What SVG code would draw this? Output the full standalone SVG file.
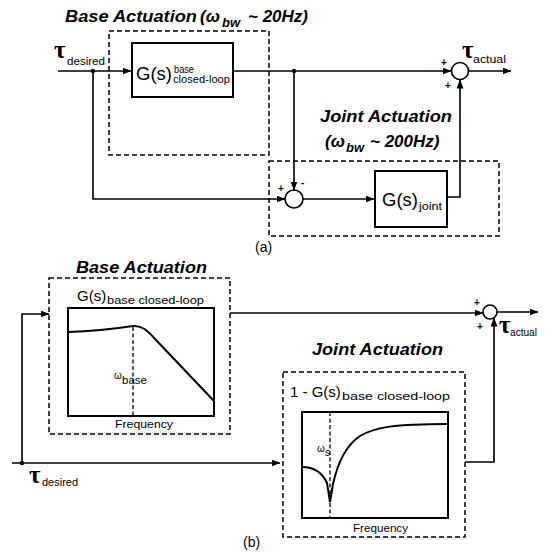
<svg xmlns="http://www.w3.org/2000/svg" width="554" height="554" viewBox="0 0 554 554">
<defs>
<marker id="arr" markerWidth="9" markerHeight="7" refX="8.5" refY="3.5" orient="auto" markerUnits="userSpaceOnUse">
<path d="M0,0 L9,3.5 L0,7 z" fill="#000"/>
</marker>
<style>
.ln{fill:none;stroke:#000;stroke-width:1.6}
.box{fill:#fff;stroke:#000;stroke-width:2}
.dash{fill:none;stroke:#000;stroke-width:1.5;stroke-dasharray:5,3}
.vdash{fill:none;stroke:#000;stroke-width:1.3;stroke-dasharray:4,2.5}
.sum{fill:#fff;stroke:#000;stroke-width:1.6}
.curve{fill:none;stroke:#000;stroke-width:2}
.t{font-family:"Liberation Sans",Arial,sans-serif;fill:#000}
.title{font-family:"Liberation Sans",Arial,sans-serif;font-weight:bold;font-style:italic;font-size:17px;fill:#000}
.tsub{font-family:"Liberation Sans",Arial,sans-serif;font-weight:bold;font-style:italic;font-size:13px;fill:#000}
.tau{font-family:"Liberation Serif","Times New Roman",serif;font-weight:bold;font-size:25px;fill:#000}
.sub{font-family:"Liberation Sans",Arial,sans-serif;font-size:10px;fill:#000}
.sg{font-family:"Liberation Sans",Arial,sans-serif;font-size:10px;font-weight:bold;fill:#000}
</style>
</defs>
<rect width="554" height="554" fill="#fff"/>

<!-- ===== (a) ===== -->
<g id="a-base-actuation">
<rect class="dash" x="109" y="31" width="160" height="124"/>
<text class="title" x="65" y="22" textLength="132" lengthAdjust="spacingAndGlyphs">Base Actuation</text>
<text class="title" x="200" y="22">(ω</text>
<text class="tsub" x="222" y="27">bw</text>
<text class="title" x="248" y="22">~ 20Hz)</text>
</g>
<g id="a-G-base">
<rect class="box" x="132" y="43" width="101" height="54"/>
<text class="t" x="136" y="80" font-size="19" textLength="36" lengthAdjust="spacingAndGlyphs">G(s)</text>
<text class="sub" x="174" y="73" font-size="9" textLength="20" lengthAdjust="spacingAndGlyphs">base</text>
<text class="sub" x="173" y="83" font-size="9" textLength="57" lengthAdjust="spacingAndGlyphs">closed-loop</text>
</g>
<g id="a-joint-actuation">
<rect class="dash" x="269" y="161" width="230" height="75"/>
<text class="title" x="320" y="122" textLength="132" lengthAdjust="spacingAndGlyphs">Joint Actuation</text>
<text class="title" x="325" y="147">(ω</text>
<text class="tsub" x="346" y="152">bw</text>
<text class="title" x="370" y="147">~ 200Hz)</text>
</g>
<g id="a-G-joint">
<rect class="box" x="375" y="171" width="72" height="56"/>
<text class="t" x="382" y="206" font-size="19" textLength="36" lengthAdjust="spacingAndGlyphs">G(s)</text>
<text class="sub" x="419" y="210" font-size="9" textLength="23" lengthAdjust="spacingAndGlyphs">joint</text>
</g>
<g id="a-sum-joint">
<circle class="sum" cx="294" cy="199" r="9"/>
<text class="sg" x="278" y="192">+</text>
<text class="sg" x="301" y="186">-</text>
</g>
<g id="a-sum-out">
<circle class="sum" cx="460" cy="71" r="8.5"/>
<text class="sg" x="441" y="66">+</text>
<text class="sg" x="445" y="89">+</text>
</g>
<g id="a-labels">
<text class="tau" x="54" y="58">τ</text>
<text class="sub" x="67" y="65" textLength="38" lengthAdjust="spacingAndGlyphs">desired</text>
<text class="tau" x="462" y="58">τ</text>
<text class="sub" x="473" y="63" textLength="33" lengthAdjust="spacingAndGlyphs">actual</text>
<text class="t" x="255" y="252" font-size="14">(a)</text>
</g>

<!-- ===== (b) ===== -->
<g id="b-base-actuation">
<rect class="dash" x="49" y="278" width="181" height="156"/>
<text class="title" x="76" y="273" textLength="131" lengthAdjust="spacingAndGlyphs">Base Actuation</text>
<text class="t" x="77" y="301" font-size="15">G(s)</text>
<text class="sub" x="107" y="304" textLength="97" lengthAdjust="spacingAndGlyphs">base closed-loop</text>
<rect class="box" x="68" y="308" width="146" height="108"/>
<line class="vdash" x1="133" y1="327" x2="133" y2="416"/>
<path class="curve" d="M68,332 C100,331 120,328 133,326 C142,325 148,331 156,340 L214,401"/>
<text class="sub" x="114" y="379" font-size="9">ω</text>
<text class="sub" x="122" y="384" textLength="25" lengthAdjust="spacingAndGlyphs">base</text>
<text class="sub" x="115" y="428" textLength="58" lengthAdjust="spacingAndGlyphs">Frequency</text>
</g>
<g id="b-joint-actuation">
<rect class="dash" x="283" y="372" width="182" height="165"/>
<text class="title" x="312" y="355" textLength="131" lengthAdjust="spacingAndGlyphs">Joint Actuation</text>
<text class="t" x="290" y="397" font-size="15">1 - G(s)</text>
<text class="sub" x="342" y="400" textLength="108" lengthAdjust="spacingAndGlyphs">base closed-loop</text>
<rect class="box" x="302" y="412" width="146" height="106"/>
<line class="vdash" x1="330" y1="412" x2="330" y2="518"/>
<path class="curve" d="M302,467 C314,467 322,472 327,483 L330,502 L333,484 C337,466 345,446 360,436 C375,427 395,424 448,424"/>
<text class="sub" x="317" y="452" font-size="10">ω</text>
<text class="sub" x="325" y="456" font-size="8">s</text>
<text class="sub" x="353" y="532" textLength="55" lengthAdjust="spacingAndGlyphs">Frequency</text>
</g>
<g id="b-sum-out">
<circle class="sum" cx="490" cy="312" r="7"/>
<text class="sg" x="474" y="306">+</text>
<text class="sg" x="477" y="330">+</text>
</g>
<g id="b-labels">
<text class="tau" x="29" y="483">τ</text>
<text class="sub" x="42" y="486" textLength="36" lengthAdjust="spacingAndGlyphs">desired</text>
<text class="tau" x="499" y="333">τ</text>
<text class="sub" x="510" y="336" textLength="27" lengthAdjust="spacingAndGlyphs">actual</text>
<text class="t" x="243" y="547" font-size="14">(b)</text>
</g>

<!-- ===== connectors ===== -->
<g id="connectors">
<path class="ln" d="M58,71 H131" marker-end="url(#arr)"/>
<path class="ln" d="M93,71 V199 H285" marker-end="url(#arr)"/>
<path class="ln" d="M233,71 H451" marker-end="url(#arr)"/>
<path class="ln" d="M294,71 V190" marker-end="url(#arr)"/>
<path class="ln" d="M303,199 H374" marker-end="url(#arr)"/>
<path class="ln" d="M447,197 H460 V80" marker-end="url(#arr)"/>
<path class="ln" d="M468.5,71 H511" marker-end="url(#arr)"/>
<circle cx="93" cy="71" r="2.2" fill="#000"/>
<circle cx="294" cy="71" r="2.2" fill="#000"/>

<path class="ln" d="M12,463 H280" marker-end="url(#arr)"/>
<path class="ln" d="M22,463 V314 H49" marker-end="url(#arr)"/>
<path class="ln" d="M230,313 H483" marker-end="url(#arr)"/>
<path class="ln" d="M497,312 H538" marker-end="url(#arr)"/>
<path class="ln" d="M465,462 H494 V318" marker-end="url(#arr)"/>
<circle cx="22" cy="463" r="2.2" fill="#000"/>
</g>
</svg>
